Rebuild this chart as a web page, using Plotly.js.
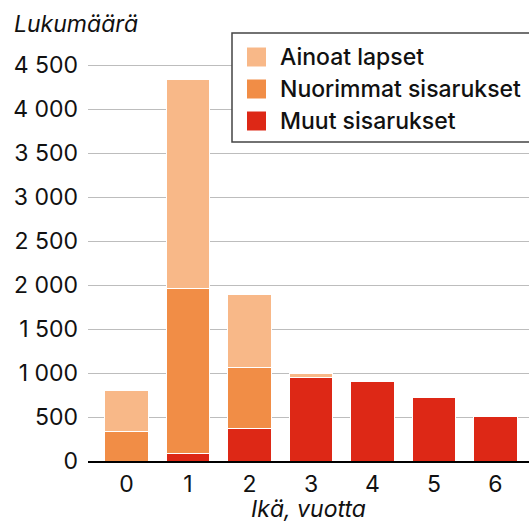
<!DOCTYPE html>
<html><head><meta charset="utf-8">
<script src="https://cdn.plot.ly/plotly-3.0.1.min.js"></script>
<style>html,body{margin:0;padding:0;background:#fff;}#chart{width:529px;height:523px;}</style>
</head><body><div id="chart"></div>
<script>
const ages = ["0","1","2","3","4","5","6"];
const muut = [0, 83, 368, 955, 902, 724, 508];
const nuorimmat = [330, 1877, 690, 0, 0, 0, 0];
const ainoat = [477, 2384, 830, 42, 18, 0, 0];
const seriesNames = ["Ainoat lapset", "Nuorimmat sisarukset", "Muut sisarukset"];
const seriesColors = ["#F8B888", "#F18D46", "#DD2816"];
const yTicks = [0, 500, 1000, 1500, 2000, 2500, 3000, 3500, 4000, 4500];

const W = 529, H = 523, L = 88, R = 0, T = 40, B = 62;
const pw = W - L - R, ph = H - T - B;
const px = x => (x - L) / pw;
const py = y => (H - B - y) / ph;

const mk = (vals, i) => ({
  type: 'bar', x: ages, y: vals, name: seriesNames[i],
  marker: {color: seriesColors[i], line: {color: '#ffffff', width: 1}},
  showlegend: false, hoverinfo: 'y'
});
const data = [mk(muut, 2), mk(nuorimmat, 1), mk(ainoat, 0)];

const font = "Inter, 'Noto Sans', sans-serif";
const FS = 23;
const shapes = [{type: 'rect', xref: 'paper', yref: 'paper', x0: px(232), x1: px(580), y0: py(142), y1: py(33),
  line: {color: '#444', width: 1.5}, fillcolor: '#fff', layer: 'above'}];
const annotations = [];
seriesNames.forEach((n, i) => {
  const cy = 57 + i * 32;
  shapes.push({type: 'rect', xref: 'paper', yref: 'paper', x0: px(247), x1: px(266), y0: py(cy + 9.5), y1: py(cy - 9.5),
    line: {width: 0}, fillcolor: seriesColors[i], layer: 'above'});
  annotations.push({xref: 'paper', yref: 'paper', x: px(278), y: py(cy), xanchor: 'left', yanchor: 'middle',
    text: n, showarrow: false, font: {family: font, size: FS, color: '#111', weight: 500}});
});
annotations.push({xref: 'paper', yref: 'paper', x: px(12), y: py(24), xanchor: 'left', yanchor: 'middle',
  text: '<i>Lukumäärä</i>', showarrow: false, font: {family: font, size: FS, color: '#111'}});

const layout = {
  width: W, height: H,
  margin: {l: L, r: R, t: T, b: B, pad: 0},
  paper_bgcolor: '#fff', plot_bgcolor: '#fff',
  barmode: 'stack', bargap: 0.3,
  separators: ', ',
  font: {family: font, size: FS, color: '#111'},
  xaxis: {
    type: 'category', range: [-0.626, 6.545], showgrid: false,
    showline: true, linecolor: '#000', linewidth: 2, ticks: '', ticklabelstandoff: 1,
    title: {text: '<i>Ikä, vuotta</i>', font: {family: font, size: FS, color: '#111'}, standoff: 5}
  },
  yaxis: {
    range: [0, ph / 0.08793], tickvals: yTicks, separatethousands: true, tickformat: ',d',
    showgrid: true, gridcolor: '#bdbdbd', gridwidth: 1, zeroline: false, showline: false,
    ticks: '', ticklabelstandoff: 9
  },
  shapes: shapes, annotations: annotations
};
Plotly.newPlot('chart', data, layout, {displayModeBar: false, staticPlot: true});
</script></body></html>
